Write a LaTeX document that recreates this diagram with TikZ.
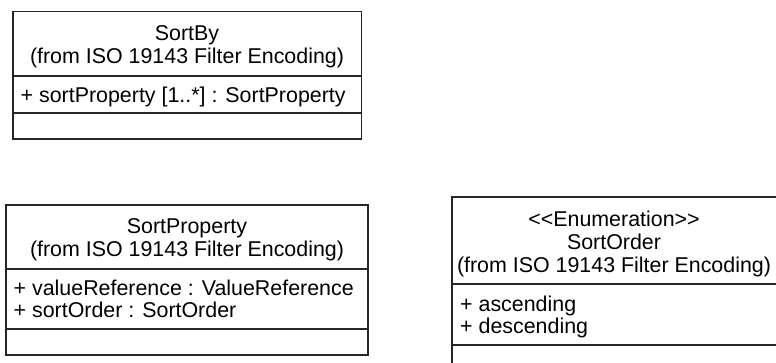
\documentclass[tikz,border=0pt]{standalone}
\usepackage{fontspec}
\setmainfont{Liberation Sans}
\begin{document}
\begin{tikzpicture}[x=1pt,y=-1pt,
  umlbox/.style={draw=black!85, line width=1.3pt},
  sep/.style={draw=black!85, line width=1.3pt},
  ttl/.style={anchor=base, inner sep=0pt, font=\fontsize{21.4}{23}\selectfont},
  attr/.style={anchor=base west, inner sep=0pt, font=\fontsize{21.4}{23}\selectfont}]
\useasboundingbox (0,0) rectangle (776,363);
\fill[white] (0,0) rectangle (776,363);
% SortBy
\draw[umlbox] (13,11.5) rectangle (361.5,139);
\draw[sep] (13,76) -- (361.5,76);
\draw[sep] (13,113) -- (361.5,113);
\node[ttl] (sbname) at (187,40.5) {SortBy};
\node[ttl] (sbfrom) at (187,63.5) {(from ISO 19143 Filter Encoding)};
\node[attr] (sba1) at (20.5,102.5) {+ sortProperty [1..*] : SortProperty};
% SortProperty
\draw[umlbox] (6,205) rectangle (368,355);
\draw[sep] (6,269) -- (368,269);
\draw[sep] (6,329) -- (368,329);
\node[ttl] (spname) at (187,233.5) {SortProperty};
\node[ttl] (spfrom) at (187,256.5) {(from ISO 19143 Filter Encoding)};
\node[attr] (spa1) at (13.5,295) {+ valueReference : ValueReference};
\node[attr] (spa2) at (13.5,317) {+ sortOrder : SortOrder};
% SortOrder
\draw[umlbox] (452,197) rectangle (778,372);
\draw[sep] (452,284) -- (778,284);
\draw[sep] (452,345) -- (778,345);
\node[ttl] (soster) at (614,226.5) {<{}<Enumeration>{}>};
\node[ttl] (soname) at (614,249.5) {SortOrder};
\node[ttl] (sofrom) at (614,272.5) {(from ISO 19143 Filter Encoding)};
\node[attr] (soa1) at (460,311) {+ ascending};
\node[attr] (soa2) at (460,333) {+ descending};
\end{tikzpicture}
\end{document}
